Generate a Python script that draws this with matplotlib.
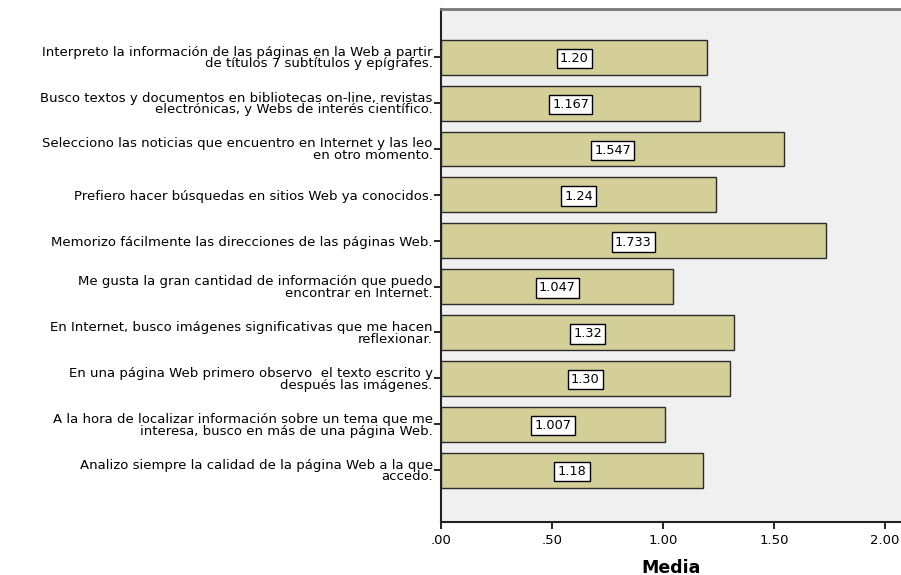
import numpy as np
import matplotlib
matplotlib.use('Agg')
import matplotlib.pyplot as plt

plt.rcParams['font.family'] = ['DejaVu Sans']

labels = [
    "Interpreto la información de las páginas en la Web a partir\nde títulos 7 subtítulos y epígrafes.",
    "Busco textos y documentos en bibliotecas on-line, revistas\nelectrónicas, y Webs de interés científico.",
    "Selecciono las noticias que encuentro en Internet y las leo\nen otro momento.",
    "Prefiero hacer búsquedas en sitios Web ya conocidos.",
    "Memorizo fácilmente las direcciones de las páginas Web.",
    "Me gusta la gran cantidad de información que puedo\nencontrar en Internet.",
    "En Internet, busco imágenes significativas que me hacen\nreflexionar.",
    "En una página Web primero observo  el texto escrito y\ndespués las imágenes.",
    "A la hora de localizar información sobre un tema que me\ninteresa, busco en más de una página Web.",
    "Analizo siempre la calidad de la página Web a la que\naccedo.",
]
values = [1.20, 1.167, 1.547, 1.24, 1.733, 1.047, 1.32, 1.30, 1.007, 1.18]
value_text = ["1.20", "1.167", "1.547", "1.24", "1.733", "1.047", "1.32", "1.30", "1.007", "1.18"]
xticks = [0, 0.5, 1.0, 1.5, 2.0]
xtick_labels = [".00", ".50", "1.00", "1.50", "2.00"]

fig = plt.figure(figsize=(9.01, 5.75), dpi=100)
ax = fig.add_axes([441 / 901, 1 - 522 / 575, 460 / 901, 513 / 575])
ax.set_facecolor('#F0F0F0')

y = np.arange(len(values))
ax.barh(y, values, height=0.76, color='#D4CE98', edgecolor='#2b2b2b', linewidth=1.0)
for yi, v, t in zip(y, values, value_text):
    ax.text(v / 2, yi + 0.03, t, ha='center', va='center', fontsize=9.3,
            bbox=dict(boxstyle='square,pad=0.25', facecolor='white', edgecolor='black', linewidth=1.0))

ax.set_ylim(len(values) - 1 + 1.13, -1.05)
ax.set_xlim(0, 2.072)
ax.set_yticks(y)
ax.set_yticklabels(labels, fontsize=9.5, linespacing=0.88, ha='right', multialignment='right')
ax.set_xticks(xticks)
ax.set_xticklabels(xtick_labels, fontsize=9.5)
ax.tick_params(axis='y', length=5, width=1.2, pad=1)
ax.tick_params(axis='x', length=5, width=1.2, pad=4)
ax.set_xlabel('Media', fontsize=12.5, fontweight='bold', labelpad=8)

for s in ['left', 'bottom']:
    ax.spines[s].set_linewidth(1.5)
    ax.spines[s].set_color('#222222')
ax.spines['top'].set_color('#777777')
ax.spines['top'].set_linewidth(2)
ax.spines['right'].set_visible(False)

fig.savefig('out.png', dpi=100)
